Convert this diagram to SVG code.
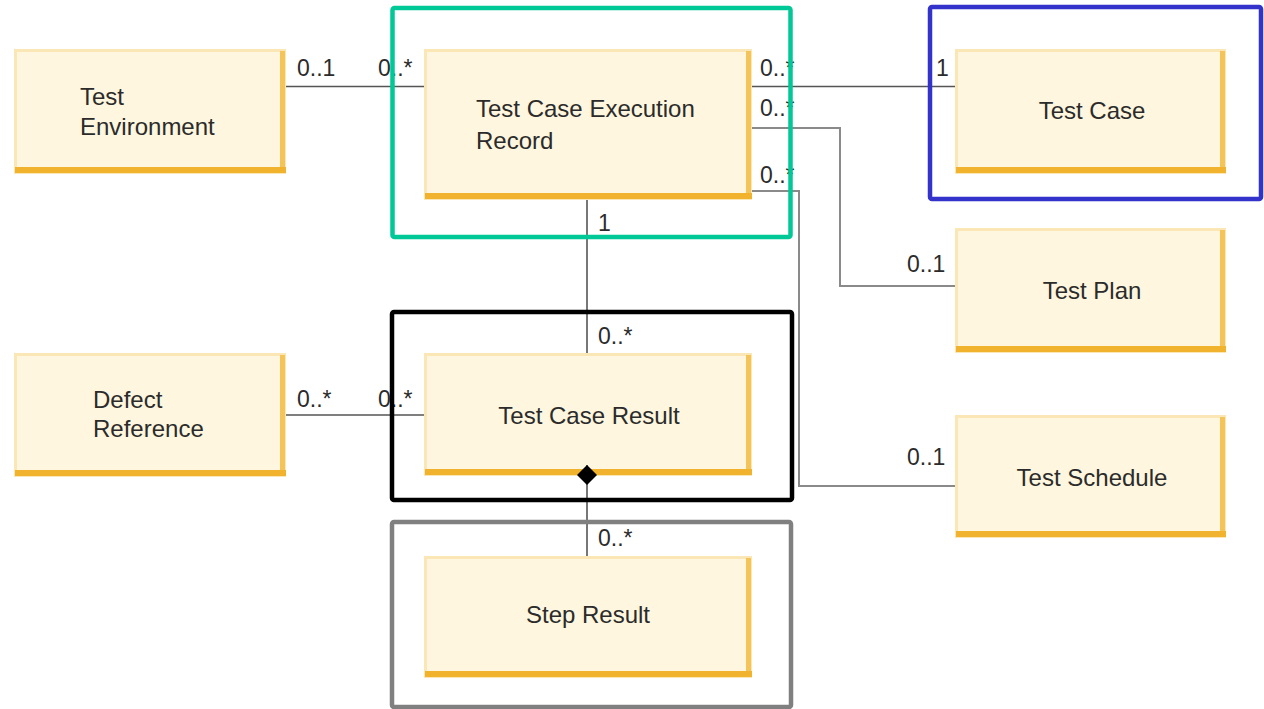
<svg xmlns="http://www.w3.org/2000/svg" width="1264" height="709" viewBox="0 0 1264 709">
<style>
.bx{fill:#fef6de;stroke:#fbe7b6;stroke-width:3}
.br{fill:#f5c458}
.bb{fill:#f1b32e}
.t{font-family:"Liberation Sans",Arial,sans-serif;font-size:24px;fill:#2b2b2b}
.c{text-anchor:middle}
.lb{font-family:"Liberation Sans",Arial,sans-serif;font-size:23px;fill:#2b2b2b}
.ln{fill:none;stroke:#555;stroke-width:1.6}
.lg{fill:none;stroke:#8a8a8a;stroke-width:2}
.fr{fill:none;stroke-width:4.5}
</style>
<defs>
<marker id="dia" viewBox="0 0 20 20" refX="0" refY="10" markerWidth="20" markerHeight="20" markerUnits="userSpaceOnUse" orient="auto">
<path d="M0,10 L10,0 L20,10 L10,20 Z" fill="#000"/>
</marker>
</defs>
<rect width="1264" height="709" fill="#fff"/>

<g id="test-environment">
<rect class="bx" x="15.5" y="50.5" width="269" height="122"/>
<rect class="br" x="280" y="51" width="5" height="120"/>
<rect class="bb" x="15" y="167" width="271" height="6"/>
<text class="t" x="80" y="105">Test</text>
<text class="t" x="80" y="135">Environment</text>
</g>

<g id="test-case-execution-record">
<rect class="bx" x="425.5" y="50.5" width="325" height="148"/>
<rect class="br" x="746" y="51" width="5" height="146"/>
<rect class="bb" x="425" y="193" width="327" height="6"/>
<text class="t" x="476" y="117">Test Case Execution</text>
<text class="t" x="476" y="149">Record</text>
</g>

<g id="test-case">
<rect class="bx" x="956.5" y="50.5" width="268" height="122"/>
<rect class="br" x="1220" y="51" width="5" height="120"/>
<rect class="bb" x="956" y="167" width="270" height="6"/>
<text class="t c" x="1092" y="119">Test Case</text>
</g>

<g id="test-plan">
<rect class="bx" x="956.5" y="229.5" width="268" height="122"/>
<rect class="br" x="1220" y="230" width="5" height="120"/>
<rect class="bb" x="956" y="346" width="270" height="6"/>
<text class="t c" x="1092" y="299">Test Plan</text>
</g>

<g id="test-schedule">
<rect class="bx" x="956.5" y="416.5" width="268" height="120"/>
<rect class="br" x="1220" y="417" width="5" height="118"/>
<rect class="bb" x="956" y="531" width="270" height="6"/>
<text class="t c" x="1092" y="486">Test Schedule</text>
</g>

<g id="defect-reference">
<rect class="bx" x="15.5" y="354.5" width="269" height="121"/>
<rect class="br" x="280" y="355" width="5" height="119"/>
<rect class="bb" x="15" y="470" width="271" height="6"/>
<text class="t" x="93" y="408">Defect</text>
<text class="t" x="93" y="437">Reference</text>
</g>

<g id="test-case-result">
<rect class="bx" x="425.5" y="354.5" width="325" height="120"/>
<rect class="br" x="746" y="355" width="5" height="118"/>
<rect class="bb" x="425" y="469" width="327" height="6"/>
<text class="t c" x="589" y="424">Test Case Result</text>
</g>

<g id="step-result">
<rect class="bx" x="425.5" y="557.5" width="325" height="119"/>
<rect class="br" x="746" y="558" width="5" height="117"/>
<rect class="bb" x="425" y="671" width="327" height="6"/>
<text class="t c" x="588" y="623">Step Result</text>
</g>

<g id="connectors">
<path class="ln" d="M286,86.5 H424"/>
<path class="ln" d="M752,86.5 H955"/>
<path class="lg" d="M752,128 H840 V286 H955"/>
<path class="lg" d="M752,191 H799 V486 H955"/>
<path class="lg" style="stroke:#777" d="M587,200 V353"/>
<path class="ln" d="M286,415 H424"/>
<path class="lg" style="stroke:#777" d="M587,465 V556" marker-start="url(#dia)"/>
<text class="lb" x="297" y="76">0..1</text>
<text class="lb" x="378" y="76">0..*</text>
<text class="lb" x="760" y="76">0..*</text>
<text class="lb" x="760" y="116">0..*</text>
<text class="lb" x="760" y="183">0..*</text>
<text class="lb" x="936" y="76">1</text>
<text class="lb" x="907" y="272">0..1</text>
<text class="lb" x="907" y="465">0..1</text>
<text class="lb" x="598" y="231">1</text>
<text class="lb" x="598" y="344">0..*</text>
<text class="lb" x="598" y="546">0..*</text>
<text class="lb" x="297" y="407">0..*</text>
<text class="lb" x="378" y="407">0..*</text>
</g>

<g id="frames">
<rect class="fr" x="392.5" y="8" width="398" height="229" rx="2" stroke="#00c896"/>
<rect class="fr" x="930" y="7" width="331" height="192" rx="2" stroke="#3333cc"/>
<rect class="fr" x="392" y="312" width="400" height="188" rx="2" stroke="#000"/>
<rect class="fr" x="392" y="522" width="399" height="185" rx="2" stroke="#808080"/>
</g>
</svg>
